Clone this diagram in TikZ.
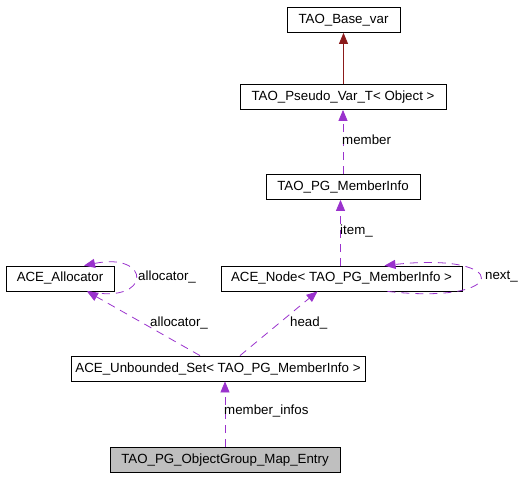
\documentclass[tikz,border=0pt]{standalone}
\usepackage{fontspec}
\setmainfont{Liberation Sans}
\usetikzlibrary{arrows.meta,calc}
\definecolor{inh}{HTML}{8B1A1A}
\definecolor{usr}{HTML}{9A32CD}
\definecolor{gfill}{HTML}{BFBFBF}
\begin{document}
\begin{tikzpicture}[x=1bp,y=-1bp,
  every node/.style={font=\fontsize{13.3bp}{15bp}\selectfont},
  cls/.style={draw=black,line width=0.8bp,minimum height=25bp,inner sep=0pt,anchor=center},
  inharr/.style={draw=inh,line width=0.8bp,-{Triangle[length=11bp,width=9bp]}},
  usearr/.style={draw=usr,line width=0.8bp,dash pattern=on 8bp off 6bp,-{Triangle[length=11bp,width=9bp]}},
  lbl/.style={anchor=west,inner sep=0pt}]
\useasboundingbox (0,0) rectangle (527,477);
\node[cls,minimum width=113bp] (base) at (343.5,20) {TAO\_Base\_var};
\node[cls,minimum width=206bp] (pseudo) at (343,97) {TAO\_Pseudo\_Var\_T< Object >};
\node[cls,minimum width=154bp] (mi) at (343,187) {TAO\_PG\_MemberInfo};
\node[cls,minimum width=108bp] (alloc) at (60,278.5) {ACE\_Allocator};
\node[cls,minimum width=241bp] (acenode) at (341.5,278.5) {ACE\_Node< TAO\_PG\_MemberInfo >};
\node[cls,minimum width=294bp] (unb) at (218,368.5) {ACE\_Unbounded\_Set< TAO\_PG\_MemberInfo >};
\node[cls,minimum width=230bp,fill=gfill] (entry) at (225,460) {TAO\_PG\_ObjectGroup\_Map\_Entry};
% inheritance
\draw[inharr] (pseudo.north -| base.south) -- (base.south);
% usage
\draw[usearr] (mi.north) -- (mi.north |- pseudo.south);
\node[lbl] (lmember) at (342,140) {member};
\draw[usearr] ([xshift=-2.5bp]mi.south |- acenode.north) -- ([xshift=-2.5bp]mi.south);
\node[lbl] (litem) at (340,231) {item\_};
\draw[usearr] ([xshift=28bp]alloc.south) .. controls ([xshift=92bp,yshift=-14bp]alloc.south) and ([xshift=92bp,yshift=14bp]alloc.north) .. ([xshift=24bp]alloc.north);
\node[lbl] (lalloc1) at (138,277) {allocator\_};
\draw[usearr] ([xshift=46bp]acenode.south) .. controls ([xshift=170bp,yshift=-14bp]acenode.south) and ([xshift=170bp,yshift=14bp]acenode.north) .. ([xshift=43bp]acenode.north);
\node[lbl] (lnext) at (485,277) {next\_};
\draw[usearr] ([xshift=-18bp]unb.north) -- ([xshift=27bp]alloc.south);
\node[lbl] (lalloc2) at (150,323) {allocator\_};
\draw[usearr] ([xshift=22bp]unb.north) -- ([xshift=-24bp]acenode.south);
\node[lbl] (lhead) at (290,323) {head\_};
\draw[usearr] (entry.north) -- (entry.north |- unb.south);
\node[lbl] (linfos) at (224,411) {member\_infos};
\end{tikzpicture}
\end{document}
